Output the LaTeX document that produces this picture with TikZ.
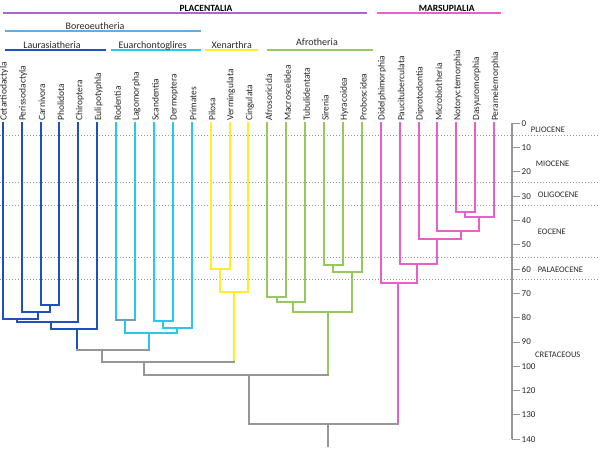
\documentclass[tikz,border=0pt]{standalone}
\usepackage{fontspec}
\setmainfont{Carlito}
\usetikzlibrary{calc}

\definecolor{lauracol}{RGB}{30,80,190}
\definecolor{euarcol}{RGB}{40,200,235}
\definecolor{xenacol}{RGB}{255,238,40}
\definecolor{afrocol}{RGB}{150,200,95}
\definecolor{marscol}{RGB}{235,95,205}
\definecolor{rootcol}{RGB}{150,150,150}
\definecolor{placcol}{RGB}{170,100,220}
\definecolor{boreocol}{RGB}{90,175,235}
\definecolor{glirescol}{RGB}{120,150,190}
\definecolor{textcol}{RGB}{40,40,40}

\begin{document}
\begin{tikzpicture}[
  x=1pt, y=-1pt,
  font=\fontsize{9.5}{11}\selectfont, text=textcol,
  branch/.style={line width=2pt, line cap=rect},
  laura/.style={branch, draw=lauracol},
  euar/.style={branch, draw=euarcol},
  xena/.style={branch, draw=xenacol},
  afro/.style={branch, draw=afrocol},
  mars/.style={branch, draw=marscol},
  stem/.style={branch, draw=rootcol},
  header/.style={line width=2pt},
  cladename/.style={anchor=base, font=\fontsize{10}{12}\selectfont},
  supername/.style={anchor=base, font=\bfseries\fontsize{9.5}{11}\selectfont, text=black},
  taxon/.style={rotate=90, anchor=west, inner sep=0.5pt},
  epochline/.style={draw=rootcol, dotted, line width=1pt},
  epoch/.style={anchor=west, inner sep=0pt, font=\fontsize{8.5}{10}\selectfont},
  ticklabel/.style={anchor=west, inner sep=0.5pt, font=\fontsize{9}{10}\selectfont}
]
\useasboundingbox (0,0) rectangle (600,450);

% epoch boundaries
\foreach \yy in {135.7,182.3,205,257.3,279}
  \draw[epochline] (0,\yy) -- (600,\yy);

% time axis
\coordinate (axtop) at (511.7,123.3);
\coordinate (axbot) at (511.7,439.2);
\draw[rootcol, line width=2pt] (axtop) -- (axbot);
\foreach \lab [count=\k from 0] in {0,10,20,30,40,50,60,70,80,90,100,120,130,140}{
  \draw[rootcol, line width=1pt] (511.7,{123.3+24.3*\k}) -- (520,{123.3+24.3*\k});
  \node[ticklabel] (tick\k) at (521,{123.3+24.3*\k}) {\lab};
}
\node[epoch] (pliocene) at (530.7,130) {PLIOCENE};
\node[epoch] (miocene) at (535.7,163.3) {MIOCENE};
\node[epoch] (oligocene) at (537.7,195) {OLIGOCENE};
\node[epoch] (eocene) at (537.7,232) {EOCENE};
\node[epoch] (palaeocene) at (537.7,269.3) {PALAEOCENE};
\node[epoch] (cretaceous) at (535,354.3) {CRETACEOUS};

% clade headers
\draw[header, placcol] (3,13.3) -- (366.7,13.3);
\node[supername] (placentalia) at (206,11.5) {PLACENTALIA};
\draw[header, marscol] (377.3,13.3) -- (500.7,13.3);
\node[supername] (marsupialia) at (446.7,11.5) {MARSUPIALIA};
\draw[header, boreocol] (5,31) -- (201,31);
\node[cladename] (boreo) at (95,29) {Boreoeutheria};
\draw[header, lauracol] (5,50) -- (106,50);
\node[cladename] (laurasia) at (52,48) {Laurasiatheria};
\draw[header, euarcol] (111,50) -- (201,50);
\node[cladename] (euarchonto) at (152.7,48) {Euarchontoglires};
\draw[header, xenacol] (205,50) -- (258,50);
\node[cladename] (xenarthra) at (231.7,48) {Xenarthra};
\draw[header, afrocol] (266.7,50) -- (373.3,50);
\node[cladename] (afrotheria) at (317,45.5) {Afrotheria};

% leaves
\foreach \name [count=\i from 0] in {Cetartiodactyla, Perissodactyla, Carnivora,
  Pholidota, Chiroptera, Eulipotyphla, Rodentia, Lagomorpha, Scandentia,
  Dermoptera, Primates, Pilosa, Vermingulata, Cingulata, Afrosoricida,
  Macroscelidea, Tubulidentata, Sirenia, Hyracoidea, Proboscidea,
  Didelphimorphia, Paucituberculata, Diprotodontia, Microbiotheria,
  Notoryctemorphia, Dasyuromorphia, Peramelemorphia}{
  \coordinate (l\i) at ({2.7+18.9*\i},123);
  \node[taxon] (t\i) at ({4.2+18.9*\i},121.5) {\name};
}

% junctions
\coordinate (c1) at (49.5,305);
\coordinate (c2) at (37.7,312.3);
\coordinate (c3) at (16.7,319);
\coordinate (c4) at (50.7,322);
\coordinate (c5) at (76.7,329);
\coordinate (e1) at (125.3,320);
\coordinate (e2) at (162.7,321);
\coordinate (e3) at (177,327.7);
\coordinate (e4) at (148.7,332.7);
\coordinate (x1) at (219.7,268.7);
\coordinate (x2) at (234,292.3);
\coordinate (a1) at (277.3,296.7);
\coordinate (a2) at (292.7,302.3);
\coordinate (a3) at (332.7,265);
\coordinate (a4) at (352,271.7);
\coordinate (a5) at (328,312.3);
\coordinate (m1) at (465.3,212);
\coordinate (m2) at (478.7,216.7);
\coordinate (m3) at (460.7,230.7);
\coordinate (m4) at (437,239.3);
\coordinate (m5) at (417.3,264);
\coordinate (m6) at (398,283.3);
\coordinate (b1) at (101.7,350);
\coordinate (p1) at (144,362.3);
\coordinate (p2) at (249.3,375);
\coordinate (r0) at (328,424.3);
\coordinate (base) at (328,446);

% Laurasiatheria
\draw[laura] (l2) |- (c1) -| (l3);
\draw[laura] (l1) |- (c2) -| (c1);
\draw[laura] (l0) |- (c3) -| (c2);
\draw[laura] (c3) |- (c4) -| (l4);
\draw[laura] (c4) |- (c5) -| (l5);
\draw[laura] (c5) -- (c5 |- b1);

% Euarchontoglires
\draw[euar] (l6) |- (e1) -| (l7);
\draw[branch, draw=glirescol] (l6 |- e1) -- (l7 |- e1);
\draw[euar] (l8) |- (e2) -| (l9);
\draw[euar] (e2) |- (e3) -| (l10);
\draw[euar] (e1) |- (e4) -| (e3);
\draw[euar] (e4) -- (e4 |- b1);

% Xenarthra
\draw[xena] (l11) |- (x1) -| (l12);
\draw[xena] (x1) |- (x2) -| (l13);
\draw[xena] (x2) -- (x2 |- p1);

% Afrotheria
\draw[afro] (l14) |- (a1) -| (l15);
\draw[afro] (a1) |- (a2) -| (l16);
\draw[afro] (l17) |- (a3) -| (l18);
\draw[afro] (a3) |- (a4) -| (l19);
\draw[afro] (a2) |- (a5) -| (a4);
\draw[afro] (a5) -- (a5 |- p2);

% Marsupialia
\draw[mars] (l24) |- (m1) -| (l25);
\draw[mars] (m1) |- (m2) -| (l26);
\draw[mars] (l23) |- (m3) -| (m2);
\draw[mars] (l22) |- (m4) -| (m3);
\draw[mars] (l21) |- (m5) -| (m4);
\draw[mars] (l20) |- (m6) -| (m5);
\draw[mars] (m6) -- (m6 |- r0);

% deep splits
\draw[stem] (c5 |- b1) -- (e4 |- b1);
\draw[stem] (b1) -- (b1 |- p1);
\draw[stem] (b1 |- p1) -- (x2 |- p1);
\draw[stem] (p1) -- (p1 |- p2);
\draw[stem] (p1 |- p2) -- (a5 |- p2);
\draw[stem] (p2) -- (p2 |- r0);
\draw[stem] (p2 |- r0) -- (m6 |- r0);
\draw[stem] (r0) -- (base);
\end{tikzpicture}
\end{document}
